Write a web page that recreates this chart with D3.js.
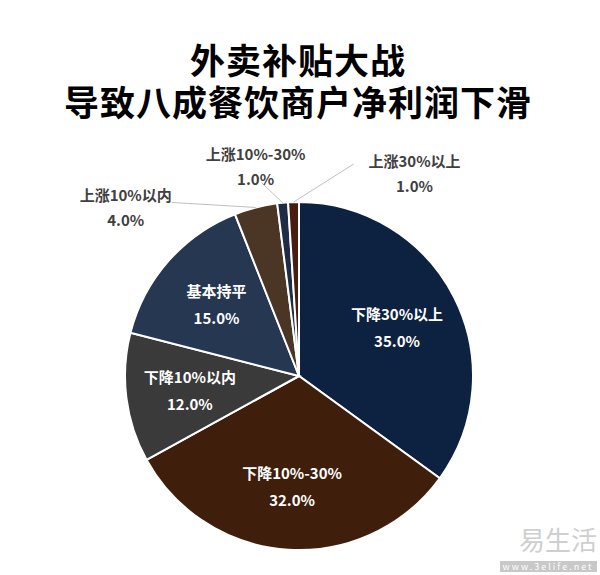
<!DOCTYPE html>
<html>
<head>
<meta charset="utf-8">
<script src="https://cdn.jsdelivr.net/npm/d3@7"></script>
<style>
  body { margin: 0; background: #fff; }
  svg { display: block; font-family: "Noto Sans CJK SC", "Noto Sans", sans-serif; }
</style>
</head>
<body>
<svg id="chart"></svg>
<script>
// data
const titleLines = ['外卖补贴大战', '导致八成餐饮商户净利润下滑'];
const categories = ['下降30%以上', '下降10%-30%', '下降10%以内', '基本持平', '上涨10%以内', '上涨10%-30%', '上涨30%以上'];
const shares = [35, 32, 12, 15, 4, 1, 1];
const sliceColors = ['#0d2140', '#3f1f0c', '#3a3a3a', '#263752', '#4b3525', '#1e2d45', '#4a1c10'];

// small slices get callouts outside the pie, offset from the arc point
const calloutOffset = {
  '上涨10%以内': { dx: -130, dy: 0, lx: -84, ly: -5 },
  '上涨10%-30%': { dx: -27, dy: -37, lx: -21, ly: -20 },
  '上涨30%以上': { dx: 121, dy: -29, lx: 60, ly: -38 }
};

const w = 600;
const h = 575;
const cx = 299;
const cy = 376;
const R = 174;

const svg = d3.select('#chart')
  .attr('width', w)
  .attr('height', h);

// title
svg.append('g')
  .selectAll('text')
  .data(titleLines)
  .join('text')
    .attr('x', 298)
    .attr('y', (d, i) => 58 + i * 42)
    .attr('text-anchor', 'middle')
    .attr('dominant-baseline', 'central')
    .attr('font-size', 35)
    .attr('letter-spacing', 1)
    .attr('font-weight', 700)
    .attr('fill', '#000')
    .text(d => d);

const rows = categories.map((c, i) => ({ name: c, value: shares[i], color: sliceColors[i] }));

const pie = d3.pie()
  .value(d => d.value)
  .sort(null);
const arcs = pie(rows);

const arc = d3.arc().innerRadius(0).outerRadius(R);
const labelArc = d3.arc().innerRadius(110).outerRadius(110);

const g = svg.append('g')
  .attr('transform', `translate(${cx}, ${cy})`);

g.selectAll('path')
  .data(arcs)
  .join('path')
    .attr('d', arc)
    .attr('fill', d => d.data.color)
    .attr('stroke', '#fff')
    .attr('stroke-width', 2);

// labels inside the big slices
const inside = arcs.filter(d => !calloutOffset[d.data.name]);
const inLab = g.selectAll('.inlab')
  .data(inside)
  .join('text')
    .attr('class', 'inlab')
    .attr('transform', d => `translate(${labelArc.centroid(d)})`)
    .attr('text-anchor', 'middle')
    .attr('font-size', 15)
    .attr('font-weight', 700)
    .attr('fill', '#fff');
inLab.append('tspan')
  .attr('x', 0)
  .attr('y', -13)
  .attr('dominant-baseline', 'central')
  .text(d => d.data.name);
inLab.append('tspan')
  .attr('x', 0)
  .attr('y', 14)
  .attr('dominant-baseline', 'central')
  .text(d => d.data.value.toFixed(1) + '%');

// callouts for the tiny ones
const outside = arcs.filter(d => calloutOffset[d.data.name]);
const edge = d => {
  const a = (d.startAngle + d.endAngle) / 2;
  return [R * Math.sin(a), -R * Math.cos(a)];
};

g.selectAll('.leader')
  .data(outside)
  .join('line')
    .attr('class', 'leader')
    .attr('x1', d => edge(d)[0])
    .attr('y1', d => edge(d)[1])
    .attr('x2', d => edge(d)[0] + calloutOffset[d.data.name].lx)
    .attr('y2', d => edge(d)[1] + calloutOffset[d.data.name].ly)
    .attr('stroke', '#bfbfbf')
    .attr('stroke-width', 1);

const outLab = g.selectAll('.outlab')
  .data(outside)
  .join('text')
    .attr('class', 'outlab')
    .attr('transform', d => {
      const p = edge(d);
      const o = calloutOffset[d.data.name];
      return `translate(${p[0] + o.dx}, ${p[1] + o.dy})`;
    })
    .attr('text-anchor', 'middle')
    .attr('font-size', 15)
    .attr('font-weight', 700)
    .attr('fill', '#404040');
outLab.append('tspan')
  .attr('x', 0)
  .attr('y', -12.5)
  .attr('dominant-baseline', 'central')
  .text(d => d.data.name);
outLab.append('tspan')
  .attr('x', 0)
  .attr('y', 12.5)
  .attr('dominant-baseline', 'central')
  .text(d => d.data.value.toFixed(1) + '%');

// faint watermark bottom right
svg.append('text')
  .attr('x', 597)
  .attr('y', 538)
  .attr('text-anchor', 'end')
  .attr('dominant-baseline', 'central')
  .attr('font-size', 26)
  .attr('fill', '#cfcfcf')
  .text('易生活');
svg.append('rect')
  .attr('x', 500)
  .attr('y', 561)
  .attr('width', 97)
  .attr('height', 11)
  .attr('fill', '#c8c8c8');
svg.append('text')
  .attr('x', 548)
  .attr('y', 566.5)
  .attr('text-anchor', 'middle')
  .attr('dominant-baseline', 'central')
  .attr('font-size', 9)
  .attr('letter-spacing', 2)
  .attr('fill', '#fff')
  .text('www.3elife.net');
</script>
</body>
</html>
